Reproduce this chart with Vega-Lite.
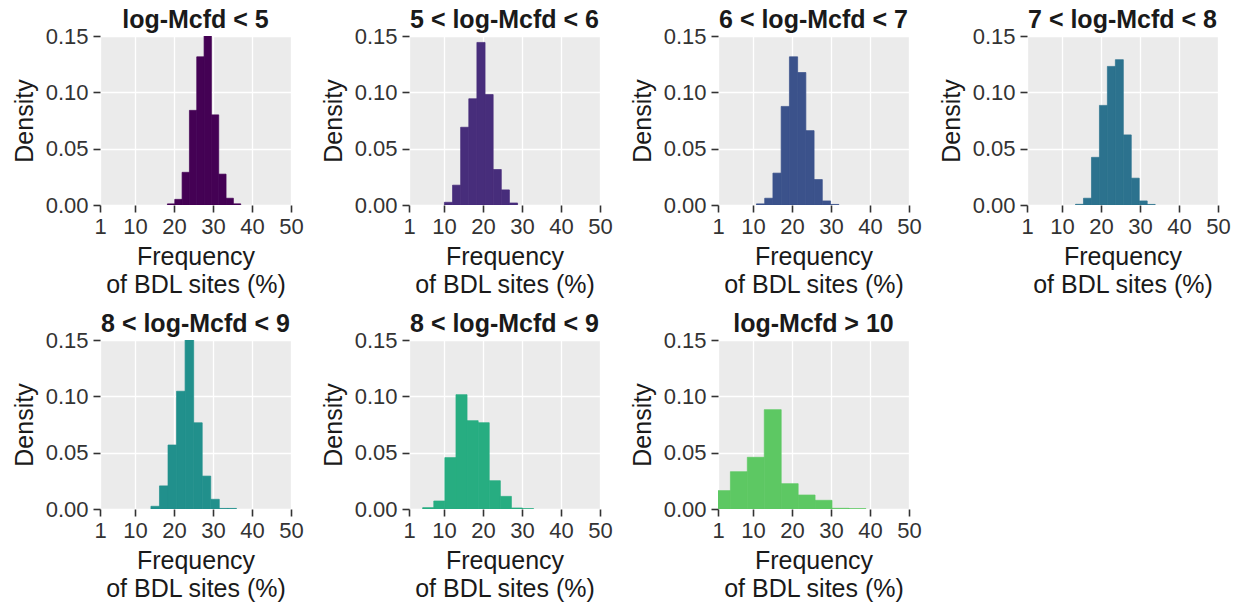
{
  "$schema": "https://vega.github.io/schema/vega-lite/v6.json",
  "padding": {"left": 12, "top": 8, "right": 5, "bottom": 5},
  "background": "white",
  "data": {"values": [
    {"panel": 1, "start": 18.3, "end": 20.18, "density": 0.001},
    {"panel": 1, "start": 20.18, "end": 22.06, "density": 0.005},
    {"panel": 1, "start": 22.06, "end": 23.94, "density": 0.029},
    {"panel": 1, "start": 23.94, "end": 25.82, "density": 0.084},
    {"panel": 1, "start": 25.82, "end": 27.7, "density": 0.1315},
    {"panel": 1, "start": 27.7, "end": 29.58, "density": 0.152},
    {"panel": 1, "start": 29.58, "end": 31.46, "density": 0.080},
    {"panel": 1, "start": 31.46, "end": 33.34, "density": 0.0274},
    {"panel": 1, "start": 33.34, "end": 35.22, "density": 0.006},
    {"panel": 1, "start": 35.22, "end": 37.1, "density": 0.001},

    {"panel": 2, "start": 10.08, "end": 12.17, "density": 0.0024},
    {"panel": 2, "start": 12.17, "end": 14.25, "density": 0.0176},
    {"panel": 2, "start": 14.25, "end": 16.34, "density": 0.069},
    {"panel": 2, "start": 16.34, "end": 18.42, "density": 0.0943},
    {"panel": 2, "start": 18.42, "end": 20.51, "density": 0.1443},
    {"panel": 2, "start": 20.51, "end": 22.59, "density": 0.098},
    {"panel": 2, "start": 22.59, "end": 24.68, "density": 0.0315},
    {"panel": 2, "start": 24.68, "end": 26.76, "density": 0.0134},
    {"panel": 2, "start": 26.76, "end": 28.85, "density": 0.0018},

    {"panel": 3, "start": 10.87, "end": 12.98, "density": 0.001},
    {"panel": 3, "start": 12.98, "end": 15.09, "density": 0.006},
    {"panel": 3, "start": 15.09, "end": 17.2, "density": 0.0283},
    {"panel": 3, "start": 17.2, "end": 19.32, "density": 0.0875},
    {"panel": 3, "start": 19.32, "end": 21.43, "density": 0.1315},
    {"panel": 3, "start": 21.43, "end": 23.54, "density": 0.1176},
    {"panel": 3, "start": 23.54, "end": 25.65, "density": 0.066},
    {"panel": 3, "start": 25.65, "end": 27.76, "density": 0.0226},
    {"panel": 3, "start": 27.76, "end": 29.88, "density": 0.0036},
    {"panel": 3, "start": 29.88, "end": 31.99, "density": 0.0005},

    {"panel": 4, "start": 13.45, "end": 15.49, "density": 0.0006},
    {"panel": 4, "start": 15.49, "end": 17.54, "density": 0.006},
    {"panel": 4, "start": 17.54, "end": 19.58, "density": 0.0423},
    {"panel": 4, "start": 19.58, "end": 21.62, "density": 0.0884},
    {"panel": 4, "start": 21.62, "end": 23.67, "density": 0.123},
    {"panel": 4, "start": 23.67, "end": 25.71, "density": 0.129},
    {"panel": 4, "start": 25.71, "end": 27.75, "density": 0.0622},
    {"panel": 4, "start": 27.75, "end": 29.79, "density": 0.0238},
    {"panel": 4, "start": 29.79, "end": 31.84, "density": 0.0036},
    {"panel": 4, "start": 31.84, "end": 33.88, "density": 0.0005},

    {"panel": 5, "start": 14.07, "end": 16.26, "density": 0.0024},
    {"panel": 5, "start": 16.26, "end": 18.45, "density": 0.0205},
    {"panel": 5, "start": 18.45, "end": 20.64, "density": 0.0568},
    {"panel": 5, "start": 20.64, "end": 22.83, "density": 0.1045},
    {"panel": 5, "start": 22.83, "end": 25.03, "density": 0.152},
    {"panel": 5, "start": 25.03, "end": 27.22, "density": 0.0765},
    {"panel": 5, "start": 27.22, "end": 29.41, "density": 0.0292},
    {"panel": 5, "start": 29.41, "end": 31.6, "density": 0.0086},
    {"panel": 5, "start": 31.6, "end": 33.8, "density": 0.0005},
    {"panel": 5, "start": 33.8, "end": 36.0, "density": 0.0005},

    {"panel": 6, "start": 4.51, "end": 7.36, "density": 0.0012},
    {"panel": 6, "start": 7.36, "end": 10.2, "density": 0.0071},
    {"panel": 6, "start": 10.2, "end": 13.05, "density": 0.0456},
    {"panel": 6, "start": 13.05, "end": 15.89, "density": 0.1015},
    {"panel": 6, "start": 15.89, "end": 18.74, "density": 0.0784},
    {"panel": 6, "start": 18.74, "end": 21.58, "density": 0.0766},
    {"panel": 6, "start": 21.58, "end": 24.43, "density": 0.0251},
    {"panel": 6, "start": 24.43, "end": 27.27, "density": 0.0112},
    {"panel": 6, "start": 27.27, "end": 30.12, "density": 0.0009},
    {"panel": 6, "start": 30.12, "end": 32.96, "density": 0.0003},

    {"panel": 7, "start": -0.17, "end": 4.18, "density": 0.0163},
    {"panel": 7, "start": 4.18, "end": 8.52, "density": 0.0331},
    {"panel": 7, "start": 8.52, "end": 12.87, "density": 0.0459},
    {"panel": 7, "start": 12.87, "end": 17.21, "density": 0.0882},
    {"panel": 7, "start": 17.21, "end": 21.56, "density": 0.0225},
    {"panel": 7, "start": 21.56, "end": 25.9, "density": 0.0124},
    {"panel": 7, "start": 25.9, "end": 30.25, "density": 0.0077},
    {"panel": 7, "start": 30.25, "end": 34.59, "density": 0.0006},
    {"panel": 7, "start": 34.59, "end": 38.94, "density": 0.0003}
  ]},
  "facet": {
    "field": "panel",
    "type": "ordinal",
    "title": null,
    "header": {
      "title": null,
      "labelExpr": "['log-Mcfd < 5','5 < log-Mcfd < 6','6 < log-Mcfd < 7','7 < log-Mcfd < 8','8 < log-Mcfd < 9','8 < log-Mcfd < 9','log-Mcfd > 10'][datum.value - 1]",
      "labelFont": "Liberation Sans",
      "labelFontSize": 25,
      "labelFontWeight": "bold",
      "labelColor": "#1a1a1a",
      "labelPadding": -8
    }
  },
  "columns": 4,
  "spacing": {"column": 17, "row": 15},
  "resolve": {"axis": {"x": "independent", "y": "independent"}},
  "spec": {
    "width": 191,
    "height": 169,
    "mark": {"type": "rect", "clip": true, "strokeWidth": 0.7},
    "encoding": {
      "x": {
        "field": "start",
        "type": "quantitative",
        "scale": {"domain": [1, 50], "nice": false, "zero": false},
        "axis": {"values": [1, 10, 20, 30, 40, 50], "title": ["Frequency", "of BDL sites (%)"], "format": "d", "titlePadding": 7, "titleLineHeight": 28, "labelPadding": 4}
      },
      "x2": {"field": "end"},
      "y": {
        "field": "density",
        "type": "quantitative",
        "scale": {"domain": [0, 0.15], "nice": false},
        "axis": {"values": [0, 0.05, 0.1, 0.15], "format": ".2f", "title": "Density", "titlePadding": 8, "labelPadding": 5}
      },
      "y2": {"datum": 0},
      "color": {
        "field": "panel",
        "type": "nominal",
        "scale": {"domain": [1, 2, 3, 4, 5, 6, 7], "range": ["#440154", "#472D7B", "#3B528B", "#2C728E", "#21908C", "#27AD81", "#5DC863"]},
        "legend": null
      },
      "stroke": {
        "field": "panel",
        "type": "nominal",
        "scale": {"domain": [1, 2, 3, 4, 5, 6, 7], "range": ["#440154", "#472D7B", "#3B528B", "#2C728E", "#21908C", "#27AD81", "#5DC863"]},
        "legend": null
      }
    }
  },
  "config": {
    "font": "Liberation Sans",
    "view": {"fill": "#EBEBEB", "stroke": null},
    "axis": {
      "domain": false,
      "grid": true,
      "gridColor": "#FFFFFF",
      "gridWidth": 1.3,
      "ticks": true,
      "tickColor": "#333333",
      "tickWidth": 1.6,
      "tickSize": 7,
      "labelFont": "Liberation Sans",
      "labelFontSize": 22,
      "labelColor": "#333333",
      "titleFont": "Liberation Sans",
      "titleFontSize": 25,
      "titleFontWeight": "normal",
      "titleColor": "#1a1a1a",
      "labelFlush": false,
      "labelOverlap": false
    }
  }
}
